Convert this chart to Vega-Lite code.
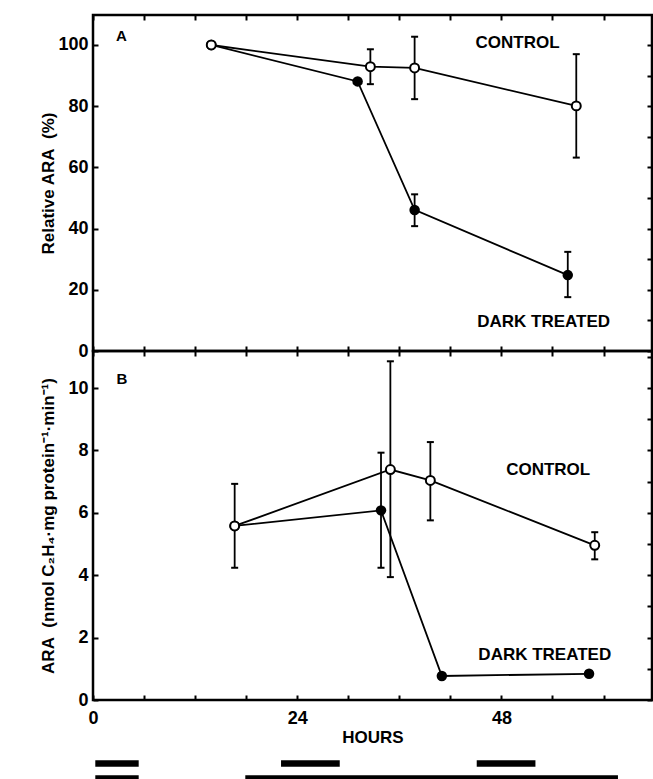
{
  "$schema": "https://vega.github.io/schema/vega-lite/v6.json",
  "padding": {"left": 37, "top": 12, "right": 0, "bottom": 0},
  "background": "white",
  "config": {
    "view": {"stroke": "black", "strokeWidth": 2.5},
    "font": "Liberation Sans",
    "axis": {
      "domain": false, "grid": false, "ticks": true, "tickColor": "black", "tickWidth": 2, "tickSize": 5, "offset": -5,
      "labelFont": "Liberation Sans", "labelFontSize": 18, "labelFontWeight": "bold", "labelColor": "black",
      "titleFont": "Liberation Sans", "titleFontSize": 17, "titleFontWeight": "bold", "titleColor": "black",
      "labelFlush": false
    }
  },
  "datasets": {
    "pts": [
      {"panel": "A", "series": "Control", "hours": 13.9, "value": 100},
      {"panel": "A", "series": "Control", "hours": 32.6, "value": 92.9, "lo": 87.2, "hi": 98.6},
      {"panel": "A", "series": "Control", "hours": 37.8, "value": 92.5, "lo": 82.3, "hi": 102.7},
      {"panel": "A", "series": "Control", "hours": 56.8, "value": 80.1, "lo": 63.2, "hi": 97.0},
      {"panel": "A", "series": "Dark", "hours": 13.9, "value": 100},
      {"panel": "A", "series": "Dark", "hours": 31.1, "value": 88.1},
      {"panel": "A", "series": "Dark", "hours": 37.8, "value": 46.1, "lo": 40.8, "hi": 51.2},
      {"panel": "A", "series": "Dark", "hours": 55.8, "value": 24.8, "lo": 17.6, "hi": 32.4},
      {"panel": "B", "series": "Control", "hours": 16.65, "value": 5.58, "lo": 4.24, "hi": 6.93},
      {"panel": "B", "series": "Control", "hours": 34.95, "value": 7.39, "lo": 3.94, "hi": 10.86},
      {"panel": "B", "series": "Control", "hours": 39.65, "value": 7.04, "lo": 5.76, "hi": 8.27},
      {"panel": "B", "series": "Control", "hours": 58.97, "value": 4.96, "lo": 4.51, "hi": 5.38},
      {"panel": "B", "series": "Dark", "hours": 16.65, "value": 5.58},
      {"panel": "B", "series": "Dark", "hours": 33.85, "value": 6.08, "lo": 4.24, "hi": 7.93},
      {"panel": "B", "series": "Dark", "hours": 41.0, "value": 0.77},
      {"panel": "B", "series": "Dark", "hours": 58.3, "value": 0.84}
    ],
    "notes": [
      {"panel": "A", "kind": "panel", "hours": 3.35, "value": 102.8, "text": "A"},
      {"panel": "A", "kind": "series", "hours": 49.9, "value": 100.5, "text": "CONTROL"},
      {"panel": "A", "kind": "series", "hours": 52.96, "value": 9.5, "text": "DARK TREATED"},
      {"panel": "B", "kind": "panel", "hours": 3.4, "value": 10.3, "text": "B"},
      {"panel": "B", "kind": "series", "hours": 53.5, "value": 7.38, "text": "CONTROL"},
      {"panel": "B", "kind": "series", "hours": 53.1, "value": 1.43, "text": "DARK TREATED"}
    ],
    "periods": [
      {"series": "Control", "start": 0.27, "end": 5.37},
      {"series": "Control", "start": 22.1, "end": 29.0},
      {"series": "Control", "start": 45.1, "end": 52.0},
      {"series": "Dark treated", "start": 0.27, "end": 5.37},
      {"series": "Dark treated", "start": 17.9, "end": 61.7}
    ]
  },
  "spacing": 9,
  "vconcat": [
    {
      "spacing": 0,
      "bounds": "flush",
      "vconcat": [
        {
          "width": 559, "height": 336,
          "layer": [
            {
              "layer": [
                {
                  "data": {"name": "pts"},
                  "transform": [{"filter": "datum.panel === 'A' && datum.series === 'Dark'"}],
                  "mark": {"type": "line", "color": "black", "strokeWidth": 1.8},
                  "encoding": {
                    "x": {"field": "hours", "type": "quantitative", "scale": {"domain": [0, 65.7], "nice": false},
                      "axis": {"orient": "bottom", "values": [0,6,12,18,24,30,36,42,48,54,60], "labels": false, "title": null}},
                    "y": {"field": "value", "type": "quantitative", "scale": {"domain": [0, 109.8], "nice": false},
                      "axis": {"orient": "left", "values": [0,10,20,30,40,50,60,70,80,90,100],
                        "labelExpr": "datum.value % 20 === 0 ? datum.label : ''",
                        "labelPadding": 5, "title": "Relative ARA\u00a0\u00a0(%)", "titleX": -41}},
                    "order": {"field": "hours"}
                  }
                },
                {
                  "data": {"name": "pts"},
                  "transform": [{"filter": "datum.panel === 'A' && datum.series === 'Control'"}],
                  "mark": {"type": "line", "color": "black", "strokeWidth": 1.8},
                  "encoding": {"x": {"field": "hours", "type": "quantitative"}, "y": {"field": "value", "type": "quantitative"}, "order": {"field": "hours"}}
                },
                {
                  "data": {"name": "pts"},
                  "transform": [{"filter": "datum.panel === 'A' && isValid(datum.lo)"}],
                  "mark": {"type": "rule", "color": "black", "strokeWidth": 1.8},
                  "encoding": {"x": {"field": "hours", "type": "quantitative"}, "y": {"field": "lo", "type": "quantitative"}, "y2": {"field": "hi"}}
                },
                {
                  "data": {"name": "pts"},
                  "transform": [{"filter": "datum.panel === 'A' && isValid(datum.lo)"}],
                  "mark": {"type": "tick", "orient": "horizontal", "color": "black", "size": 7, "thickness": 2, "opacity": 1},
                  "encoding": {"x": {"field": "hours", "type": "quantitative"}, "y": {"field": "lo", "type": "quantitative"}}
                },
                {
                  "data": {"name": "pts"},
                  "transform": [{"filter": "datum.panel === 'A' && isValid(datum.hi)"}],
                  "mark": {"type": "tick", "orient": "horizontal", "color": "black", "size": 7, "thickness": 2, "opacity": 1},
                  "encoding": {"x": {"field": "hours", "type": "quantitative"}, "y": {"field": "hi", "type": "quantitative"}}
                },
                {
                  "data": {"name": "pts"},
                  "transform": [{"filter": "datum.panel === 'A' && datum.series === 'Dark'"}],
                  "mark": {"type": "point", "shape": "circle", "filled": true, "color": "black", "size": 110, "opacity": 1},
                  "encoding": {"x": {"field": "hours", "type": "quantitative"}, "y": {"field": "value", "type": "quantitative"}}
                },
                {
                  "data": {"name": "pts"},
                  "transform": [{"filter": "datum.panel === 'A' && datum.series === 'Control'"}],
                  "mark": {"type": "point", "shape": "circle", "filled": true, "fill": "white", "stroke": "black", "strokeWidth": 2, "size": 80, "opacity": 1},
                  "encoding": {"x": {"field": "hours", "type": "quantitative"}, "y": {"field": "value", "type": "quantitative"}}
                },
                {
                  "data": {"name": "notes"},
                  "transform": [{"filter": "datum.panel === 'A' && datum.kind === 'series'"}],
                  "mark": {"type": "text", "font": "Liberation Sans", "fontWeight": "bold", "fontSize": 17, "color": "black", "align": "center", "baseline": "middle"},
                  "encoding": {"x": {"field": "hours", "type": "quantitative"}, "y": {"field": "value", "type": "quantitative"}, "text": {"field": "text"}}
                },
                {
                  "data": {"name": "notes"},
                  "transform": [{"filter": "datum.panel === 'A' && datum.kind === 'panel'"}],
                  "mark": {"type": "text", "font": "Liberation Sans", "fontWeight": "bold", "fontSize": 15, "color": "black", "align": "center", "baseline": "middle"},
                  "encoding": {"x": {"field": "hours", "type": "quantitative"}, "y": {"field": "value", "type": "quantitative"}, "text": {"field": "text"}}
                }
              ]
            },
            {
              "data": {"name": "pts"},
              "transform": [{"filter": "datum.panel === 'A'"}],
              "mark": {"type": "point", "opacity": 0},
              "encoding": {
                "x": {"field": "hours", "type": "quantitative", "scale": {"domain": [0, 65.7], "nice": false},
                  "axis": {"orient": "top", "values": [0,6,12,18,24,30,36,42,48,54,60], "labels": false, "title": null}},
                "y": {"field": "value", "type": "quantitative", "scale": {"domain": [0, 109.8], "nice": false},
                  "axis": {"orient": "right", "values": [0,10,20,30,40,50,60,70,80,90,100], "labels": false, "title": null}}
              }
            }
          ],
          "resolve": {"scale": {"x": "independent", "y": "independent"}}
        },
        {
          "width": 559, "height": 349,
          "layer": [
            {
              "layer": [
                {
                  "data": {"name": "pts"},
                  "transform": [{"filter": "datum.panel === 'B' && datum.series === 'Dark'"}],
                  "mark": {"type": "line", "color": "black", "strokeWidth": 1.8},
                  "encoding": {
                    "x": {"field": "hours", "type": "quantitative", "scale": {"domain": [0, 65.7], "nice": false},
                      "axis": {"orient": "bottom", "values": [0,6,12,18,24,30,36,42,48,54,60],
                        "labelExpr": "datum.value % 24 === 0 ? datum.label : ''",
                        "labelPadding": 9, "title": "HOURS", "titlePadding": 2}},
                    "y": {"field": "value", "type": "quantitative", "scale": {"domain": [0, 11.19], "nice": false},
                      "axis": {"orient": "left", "values": [0,1,2,3,4,5,6,7,8,9,10,11],
                        "labelExpr": "datum.value % 2 === 0 ? datum.label : ''",
                        "labelPadding": 5, "title": "ARA\u00a0\u00a0(nmol C₂H₄·mg protein⁻¹·min⁻¹)", "titleX": -41}},
                    "order": {"field": "hours"}
                  }
                },
                {
                  "data": {"name": "pts"},
                  "transform": [{"filter": "datum.panel === 'B' && datum.series === 'Control'"}],
                  "mark": {"type": "line", "color": "black", "strokeWidth": 1.8},
                  "encoding": {"x": {"field": "hours", "type": "quantitative"}, "y": {"field": "value", "type": "quantitative"}, "order": {"field": "hours"}}
                },
                {
                  "data": {"name": "pts"},
                  "transform": [{"filter": "datum.panel === 'B' && isValid(datum.lo)"}],
                  "mark": {"type": "rule", "color": "black", "strokeWidth": 1.8},
                  "encoding": {"x": {"field": "hours", "type": "quantitative"}, "y": {"field": "lo", "type": "quantitative"}, "y2": {"field": "hi"}}
                },
                {
                  "data": {"name": "pts"},
                  "transform": [{"filter": "datum.panel === 'B' && isValid(datum.lo)"}],
                  "mark": {"type": "tick", "orient": "horizontal", "color": "black", "size": 7, "thickness": 2, "opacity": 1},
                  "encoding": {"x": {"field": "hours", "type": "quantitative"}, "y": {"field": "lo", "type": "quantitative"}}
                },
                {
                  "data": {"name": "pts"},
                  "transform": [{"filter": "datum.panel === 'B' && isValid(datum.hi)"}],
                  "mark": {"type": "tick", "orient": "horizontal", "color": "black", "size": 7, "thickness": 2, "opacity": 1},
                  "encoding": {"x": {"field": "hours", "type": "quantitative"}, "y": {"field": "hi", "type": "quantitative"}}
                },
                {
                  "data": {"name": "pts"},
                  "transform": [{"filter": "datum.panel === 'B' && datum.series === 'Dark'"}],
                  "mark": {"type": "point", "shape": "circle", "filled": true, "color": "black", "size": 110, "opacity": 1},
                  "encoding": {"x": {"field": "hours", "type": "quantitative"}, "y": {"field": "value", "type": "quantitative"}}
                },
                {
                  "data": {"name": "pts"},
                  "transform": [{"filter": "datum.panel === 'B' && datum.series === 'Control'"}],
                  "mark": {"type": "point", "shape": "circle", "filled": true, "fill": "white", "stroke": "black", "strokeWidth": 2, "size": 80, "opacity": 1},
                  "encoding": {"x": {"field": "hours", "type": "quantitative"}, "y": {"field": "value", "type": "quantitative"}}
                },
                {
                  "data": {"name": "notes"},
                  "transform": [{"filter": "datum.panel === 'B' && datum.kind === 'series'"}],
                  "mark": {"type": "text", "font": "Liberation Sans", "fontWeight": "bold", "fontSize": 17, "color": "black", "align": "center", "baseline": "middle"},
                  "encoding": {"x": {"field": "hours", "type": "quantitative"}, "y": {"field": "value", "type": "quantitative"}, "text": {"field": "text"}}
                },
                {
                  "data": {"name": "notes"},
                  "transform": [{"filter": "datum.panel === 'B' && datum.kind === 'panel'"}],
                  "mark": {"type": "text", "font": "Liberation Sans", "fontWeight": "bold", "fontSize": 15, "color": "black", "align": "center", "baseline": "middle"},
                  "encoding": {"x": {"field": "hours", "type": "quantitative"}, "y": {"field": "value", "type": "quantitative"}, "text": {"field": "text"}}
                }
              ]
            },
            {
              "data": {"name": "pts"},
              "transform": [{"filter": "datum.panel === 'B'"}],
              "mark": {"type": "point", "opacity": 0},
              "encoding": {
                "x": {"field": "hours", "type": "quantitative", "scale": {"domain": [0, 65.7], "nice": false},
                  "axis": {"orient": "top", "values": [0,6,12,18,24,30,36,42,48,54,60], "labels": false, "title": null}},
                "y": {"field": "value", "type": "quantitative", "scale": {"domain": [0, 11.19], "nice": false},
                  "axis": {"orient": "right", "values": [0,1,2,3,4,5,6,7,8,9,10,11], "labels": false, "title": null}}
              }
            }
          ],
          "resolve": {"scale": {"x": "independent", "y": "independent"}}
        }
      ]
    },
    {
      "width": 559, "height": 30,
      "view": {"stroke": null},
      "data": {"name": "periods"},
      "mark": {"type": "rule", "color": "black", "strokeWidth": 6.5},
      "encoding": {
        "x": {"field": "start", "type": "quantitative", "scale": {"domain": [0, 65.7], "nice": false}, "axis": null},
        "x2": {"field": "end"},
        "y": {"field": "series", "type": "nominal", "scale": {"type": "point", "domain": ["Control", "Dark treated"], "padding": 0.5}, "axis": null}
      }
    }
  ]
}
